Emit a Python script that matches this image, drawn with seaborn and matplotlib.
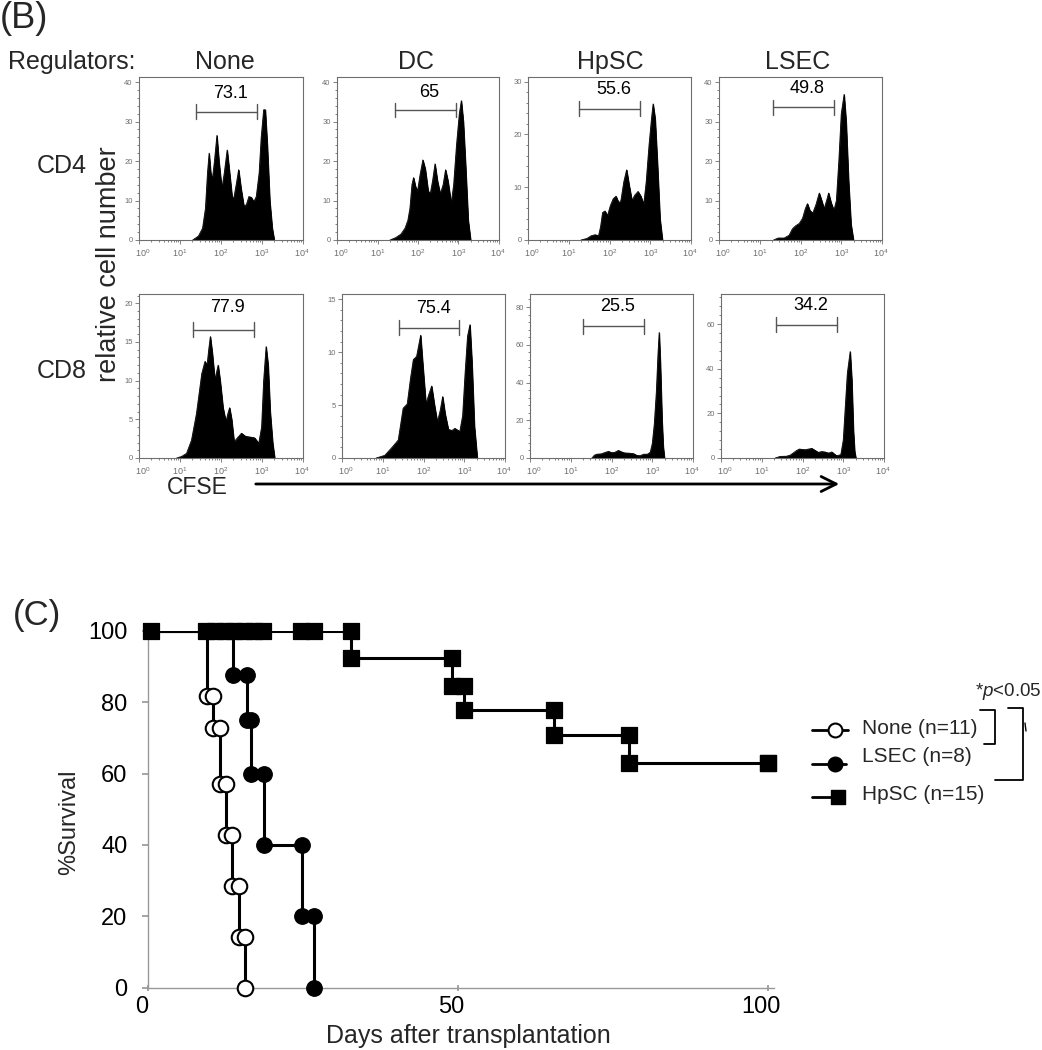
import numpy as np
import matplotlib
matplotlib.use("Agg")
import matplotlib.pyplot as plt
import seaborn as sns
from matplotlib.ticker import FixedLocator, LogLocator, MultipleLocator, AutoMinorLocator, NullFormatter
from matplotlib import transforms

# ---------------- (B) CFSE histograms: log10(CFSE) vs relative cell number ----------------
regulators = ['None', 'DC', 'HpSC', 'LSEC']
subsets = ['CD4', 'CD8']

cd4_none_x = [1.31, 1.45, 1.55, 1.62, 1.67, 1.71, 1.75, 1.79, 1.84, 1.90, 1.95, 2.02, 2.08, 2.15, 2.20,
              2.27, 2.31, 2.37, 2.43, 2.49, 2.56, 2.62, 2.68, 2.74, 2.80, 2.86, 2.93, 2.98, 3.04, 3.08,
              3.13, 3.19, 3.25, 3.30]
cd4_none_y = [0, 1, 3, 8, 17, 22, 17, 15.5, 20, 26.5, 20, 13, 17, 22.8, 18,
              11, 10.5, 14, 17.8, 13, 8.5, 9, 11, 10.8, 9.7, 11, 17, 26, 33, 33,
              24, 10, 3, 0]

cd4_dc_x = [1.31, 1.45, 1.58, 1.68, 1.75, 1.80, 1.85, 1.89, 1.94, 1.99, 2.05, 2.12, 2.18, 2.25, 2.30,
            2.36, 2.42, 2.48, 2.55, 2.62, 2.68, 2.74, 2.82, 2.88, 2.95, 3.02, 3.07, 3.12, 3.18, 3.24, 3.30]
cd4_dc_y = [0, 0.6, 1.5, 3, 5, 8, 14, 15.8, 13.5, 12.5, 16.5, 20.3, 18, 12.5, 11.6,
            15, 19.3, 15, 11.7, 14, 17.8, 15, 9.3, 14, 24, 32, 35.3, 30, 18, 5, 0]

cd4_hpsc_x = [1.30, 1.45, 1.55, 1.65, 1.73, 1.78, 1.83, 1.89, 1.95, 2.02, 2.09, 2.16, 2.23, 2.28, 2.35,
              2.42, 2.48, 2.55, 2.62, 2.70, 2.77, 2.84, 2.90, 2.97, 3.03, 3.07, 3.12, 3.18, 3.24, 3.30]
cd4_hpsc_y = [0, 0.3, 0.8, 1, 0.8, 2.5, 5.2, 5.5, 4.6, 6.5, 7.8, 8.3, 7, 7.5, 11,
              13.3, 10.5, 7.5, 8.5, 9.2, 8.3, 6.8, 11, 18, 23, 25.8, 23, 14, 4, 0]

cd4_lsec_x = [1.34, 1.45, 1.60, 1.72, 1.80, 1.88, 1.97, 2.05, 2.12, 2.17, 2.23, 2.30, 2.38, 2.46,
              2.52, 2.58, 2.64, 2.69, 2.75, 2.82, 2.88, 2.94, 3.00, 3.07, 3.12, 3.18, 3.24, 3.30]
cd4_lsec_y = [0, 0.5, 0.5, 1.2, 2.8, 3.6, 4.2, 5.5, 8, 9.2, 7.5, 6.8, 9, 11.9,
              10, 7.9, 10, 11.9, 9.5, 7.5, 10, 20, 32, 36.9, 30, 15, 4, 0]

cd8_none_x = [0.92, 1.04, 1.16, 1.28, 1.40, 1.53, 1.61, 1.66, 1.70, 1.74, 1.79, 1.85, 1.93, 1.98, 2.05,
              2.12, 2.17, 2.21, 2.26, 2.32, 2.40, 2.50, 2.60, 2.72, 2.82, 2.92, 2.99, 3.04, 3.10, 3.15,
              3.20, 3.26, 3.31]
cd8_none_y = [0, 0.2, 0.6, 2.3, 5.7, 10.9, 12.5, 12, 14, 15.7, 13.5, 10.1, 12.0, 10, 6.5,
              4.7, 5.8, 6.5, 5, 2.1, 2.6, 3.2, 2.8, 2.7, 2.6, 1.9, 4, 10, 14.4, 12,
              6, 2, 0]

cd8_dc_x = [0.84, 1.05, 1.25, 1.38, 1.50, 1.60, 1.68, 1.75, 1.83, 1.93, 1.98, 2.06, 2.13, 2.20, 2.27,
            2.34, 2.41, 2.47, 2.53, 2.61, 2.70, 2.77, 2.89, 2.96, 3.02, 3.08, 3.14, 3.19, 3.25, 3.32]
cd8_dc_y = [0, 0.25, 1.1, 1.7, 4.7, 5.1, 7.5, 9.3, 9.6, 11.6, 9, 5.1, 6, 6.8, 5,
            3.4, 4.5, 5.8, 4.2, 2.7, 2.6, 2.8, 2.5, 4, 8, 11.5, 12.6, 9, 3, 0]

cd8_hpsc_x = [1.52, 1.58, 1.64, 1.75, 1.85, 1.93, 2.00, 2.08, 2.17, 2.25, 2.32, 2.45, 2.54, 2.62,
              2.70, 2.79, 2.88, 2.95, 3.00, 3.05, 3.10, 3.14, 3.17, 3.20, 3.24, 3.27, 3.30]
cd8_hpsc_y = [0, 1.5, 2, 2.2, 3, 3.5, 2.8, 3, 4, 3.2, 2.7, 2.5, 2.3, 1.4,
              1.2, 2, 2.0, 3, 7.6, 18, 35, 55, 66.5, 50, 20, 6, 0]

cd8_lsec_x = [1.33, 1.45, 1.61, 1.70, 1.77, 1.85, 1.92, 2.06, 2.15, 2.23, 2.30, 2.39, 2.47, 2.55,
              2.64, 2.72, 2.78, 2.84, 2.94, 3.00, 3.04, 3.10, 3.17, 3.21, 3.25, 3.28, 3.31]
cd8_lsec_y = [0, 0.7, 0.8, 1.3, 2.2, 3.3, 4, 3.7, 4, 4.3, 3.5, 2.5, 2.9, 2.7,
              2.2, 2.7, 1.8, 1.0, 1.5, 8, 20, 38, 47.7, 35, 12, 3, 0]

# gated (divided) fraction and gate bounds in log10 CFSE
gate_pct_cd4 = ['73.1', '65', '55.6', '49.8']
gate_pct_cd8 = ['77.9', '75.4', '25.5', '34.2']
gate_lo_cd4 = [1.40, 1.44, 1.26, 1.32]
gate_hi_cd4 = [2.88, 2.93, 2.75, 2.81]
gate_lo_cd8 = [1.32, 1.39, 1.31, 1.35]
gate_hi_cd8 = [2.80, 2.88, 2.79, 2.84]

# y-axis extent of each panel
ymax_cd4 = [41.3, 41.3, 30.9, 41.3]
ymax_cd8 = [21.2, 15.5, 86.9, 73.5]
ystep_cd4 = [10, 10, 10, 10]
ystep_cd8 = [5, 5, 20, 20]

# ---------------- (C) survival after transplantation ----------------
none_days = [0, 9.5, 10.4, 11.6, 12.5, 13.55, 14.6, 15.6]
none_surv = [100, 81.8, 72.7, 57.1, 42.9, 28.6, 14.3, 0]
lsec_days = [0, 13.6, 15.9, 16.5, 18.6, 24.75, 26.7]
lsec_surv = [100, 87.5, 75, 60, 40, 20, 0]
hpsc_days = [0, 32.7, 49.0, 51.0, 65.5, 77.5, 100]
hpsc_surv = [100, 92.3, 84.6, 77.9, 70.8, 63.0, 63.0]
hpsc_censor_100 = [0.5, 9.3, 10.8, 12.3, 13.9, 15.4, 17.0, 18.5, 24.6, 26.8]
group_labels = ['None (n=11)', 'LSEC (n=8)', 'HpSC (n=15)']

# ---------------- layout ----------------
W, H = 1042, 1050
sns.set_theme(style="ticks")
plt.rcParams['font.family'] = ['Liberation Sans', 'DejaVu Sans']
plt.rcParams['mathtext.fontset'] = 'custom'
plt.rcParams['mathtext.rm'] = 'Liberation Sans'
plt.rcParams['mathtext.it'] = 'Liberation Sans:italic'

fig = plt.figure(figsize=(W / 100, H / 100), dpi=100)


def rect(l, r, t, b):
    return [l / W, 1 - b / H, (r - l) / W, (b - t) / H]


row_tb = [(77, 240), (294, 458)]
col_lr = [[(139, 303), (337, 499), (528, 691), (719, 882)],
          [(139, 303), (342, 505), (530, 693), (721, 884)]]
gate_frac = [[0.787, 0.797, 0.806, 0.814], [0.783, 0.794, 0.802, 0.812]]
label_frac = [[0.898, 0.903, 0.922, 0.930], [0.915, 0.910, 0.924, 0.928]]

traces = [[(cd4_none_x, cd4_none_y), (cd4_dc_x, cd4_dc_y), (cd4_hpsc_x, cd4_hpsc_y), (cd4_lsec_x, cd4_lsec_y)],
          [(cd8_none_x, cd8_none_y), (cd8_dc_x, cd8_dc_y), (cd8_hpsc_x, cd8_hpsc_y), (cd8_lsec_x, cd8_lsec_y)]]
gates = [(gate_lo_cd4, gate_hi_cd4, gate_pct_cd4), (gate_lo_cd8, gate_hi_cd8, gate_pct_cd8)]
ymaxs = [ymax_cd4, ymax_cd8]
ysteps = [ystep_cd4, ystep_cd8]
axis_grey = '#6e6e6e'

for r in range(2):
    t, b = row_tb[r]
    for c in range(4):
        l, rr = col_lr[r][c]
        ax = fig.add_axes(rect(l, rr, t, b))
        xs, ys = traces[r][c]
        xv = 10 ** np.array(xs)
        ax.fill_between(xv, ys, 0, color='black', lw=0.6)
        sns.lineplot(x=xv, y=ys, color='black', lw=0.6, ax=ax, estimator=None, sort=False)
        ax.set_xscale('log')
        ax.set_xlim(1, 1e4)
        ax.set_ylim(0, ymaxs[r][c])
        ax.xaxis.set_major_locator(FixedLocator([1, 10, 100, 1000, 10000]))
        ax.set_xticklabels([r'$10^{%d}$' % k for k in range(5)])
        ax.xaxis.set_minor_locator(LogLocator(base=10, subs=np.arange(2, 10)))
        ax.xaxis.set_minor_formatter(NullFormatter())
        ax.yaxis.set_major_locator(MultipleLocator(ysteps[r][c]))
        ax.yaxis.set_minor_locator(AutoMinorLocator(5))
        ax.tick_params(which='both', direction='out', colors=axis_grey, labelsize=5.5,
                       labelcolor=axis_grey, pad=1.5, width=0.6)
        ax.tick_params(axis='x', labelsize=6.5, pad=2.5)
        ax.tick_params(which='major', length=3)
        ax.tick_params(which='minor', length=1.5)
        xl = ax.get_xticklabels()
        xl[0].set_transform(xl[0].get_transform() + transforms.ScaledTranslation(4 / 100, 0, fig.dpi_scale_trans))
        xl[-1].set_transform(xl[-1].get_transform() + transforms.ScaledTranslation(-1 / 100, 0, fig.dpi_scale_trans))
        for s in ax.spines.values():
            s.set_color(axis_grey)
            s.set_linewidth(0.8)
        ax.set_xlabel('')
        ax.set_ylabel('')
        # gate marker with percentage
        lo, hi, pct = gates[r][0][c], gates[r][1][c], gates[r][2][c]
        tr = transforms.blended_transform_factory(ax.transData, ax.transAxes)
        gy = gate_frac[r][c]
        ax.plot([10 ** lo, 10 ** hi], [gy, gy], color='#555555', lw=1.0, transform=tr)
        for g in (lo, hi):
            ax.plot([10 ** g, 10 ** g], [gy - 0.045, gy + 0.045], color='#555555', lw=1.0, transform=tr)
        ax.text(10 ** ((lo + hi) / 2 + 0.1), label_frac[r][c], pct, transform=tr,
                ha='center', va='center', fontsize=13, color='black')

# panel texts
fig.text(0 / W, 1 - 19 / H, '(B)', fontsize=26, ha='left', va='center')
fig.text(8 / W, 1 - 62 / H, 'Regulators:', fontsize=18, ha='left', va='center')
for name, cx in zip(regulators, [225, 416, 610, 798]):
    fig.text(cx / W, 1 - 62 / H, name, fontsize=18, ha='center', va='center')
for name, cy in zip(subsets, [166, 371]):
    fig.text(62 / W, 1 - cy / H, name, fontsize=18, ha='center', va='center')
fig.text(109 / W, 1 - 264 / H, 'relative cell number', fontsize=19.5, rotation=90,
         ha='center', va='center')
fig.text(197 / W, 1 - 488 / H, 'CFSE', fontsize=16.5, ha='center', va='center')

# ---------------- survival panel ----------------
x0, x100 = 148.3, 768.0
ax2 = fig.add_axes(rect(x0, x0 + (x100 - x0) * 1.01, 630.7, 987.7))
ax2.set_xlim(0, 101)
ax2.set_ylim(0, 100)

for days, surv in [(hpsc_days, hpsc_surv), (lsec_days, lsec_surv), (none_days, none_surv)]:
    sns.lineplot(x=days, y=surv, drawstyle='steps-post', color='black', lw=2.2,
                 ax=ax2, estimator=None, sort=False, zorder=2)


def step_marks(days, surv):
    mx, my = [], []
    for i in range(1, len(days)):
        mx.append(days[i]); my.append(surv[i])
        if i + 1 < len(days):
            mx.append(days[i + 1]); my.append(surv[i])
    return mx, my


hx, hy = step_marks(hpsc_days, hpsc_surv)
hx = hpsc_censor_100 + [hpsc_days[1]] + hx
hy = [100] * len(hpsc_censor_100) + [100] + hy
sns.scatterplot(x=hx, y=hy, marker='s', s=125, color='black', edgecolor='black',
                ax=ax2, clip_on=False, zorder=4, legend=False)
lx, ly = step_marks(lsec_days, lsec_surv)
sns.scatterplot(x=lx, y=ly, marker='o', s=125, color='black', edgecolor='black',
                ax=ax2, clip_on=False, zorder=5, legend=False)
nx, ny = step_marks(none_days, none_surv)
sns.scatterplot(x=nx, y=ny, marker='o', s=125, color='white', edgecolor='black', linewidth=1.5,
                ax=ax2, clip_on=False, zorder=6, legend=False)

ax2.set_xticks([0, 50, 100])
ax2.set_yticks([0, 20, 40, 60, 80, 100])
ax2.tick_params(axis='x', labelsize=17, length=4, direction='inout', colors='#999999',
                labelcolor='black', pad=4)
ax2.tick_params(axis='y', labelsize=17, length=4, direction='out', colors='#999999',
                labelcolor='black', pad=11)
shift = transforms.ScaledTranslation(-7 / 100, 0, fig.dpi_scale_trans)
for lab in ax2.get_xticklabels():
    lab.set_transform(lab.get_transform() + shift)
sns.despine(ax=ax2)
for s in ['left', 'bottom']:
    ax2.spines[s].set_color('#999999')
    ax2.spines[s].set_linewidth(1.0)
ax2.set_xlabel('Days after transplantation', fontsize=18, va='center')
ax2.xaxis.set_label_coords((468 - x0) / (x100 - x0) / 1.01, (987.7 - 1036) / 357)
ax2.set_ylabel('%Survival', fontsize=17, va='center')
ax2.yaxis.set_label_coords((69 - x0) / (x100 - x0) / 1.01, (987.7 - 822) / 357)

fig.text(13 / W, 1 - 615 / H, '(C)', fontsize=25, ha='left', va='center')

# overlay in pixel units for arrow, legend and brackets
ov = fig.add_axes([0, 0, 1, 1])
ov.set_xlim(0, W)
ov.set_ylim(H, 0)
ov.axis('off')
ov.annotate('', xy=(842, 484), xytext=(253, 484),
            arrowprops=dict(arrowstyle='->,head_length=0.9,head_width=0.45', lw=2, color='black'))

leg_y = [730, 764, 797]
leg_text_y = [728, 757, 794]
ov.plot([812, 848], [leg_y[0]] * 2, color='black', lw=2)
ov.scatter([835], [leg_y[0]], marker='o', s=100, facecolor='white', edgecolor='black', lw=1.5, zorder=3)
ov.plot([812, 846], [leg_y[1]] * 2, color='black', lw=2)
ov.scatter([835], [leg_y[1]], marker='o', s=110, color='black', zorder=3)
ov.plot([812, 836], [leg_y[2]] * 2, color='black', lw=2)
ov.scatter([838], [leg_y[2]], marker='s', s=110, color='black', zorder=3)
for lab, ty in zip(group_labels, leg_text_y):
    ov.text(862, ty, lab, fontsize=15, ha='left', va='center')

ov.plot([980, 995, 995, 984], [710, 710, 744, 744], color='black', lw=1.3)
ov.plot([1008, 1023, 1023, 995], [708, 708, 780, 780], color='black', lw=1.3)
ov.plot([1025, 1026], [723, 731], color='black', lw=1.0)
ov.text(1008, 692, r'*$p$<0.05', fontsize=13.5, ha='center', va='center')

fig.savefig('out.png', dpi=100)
